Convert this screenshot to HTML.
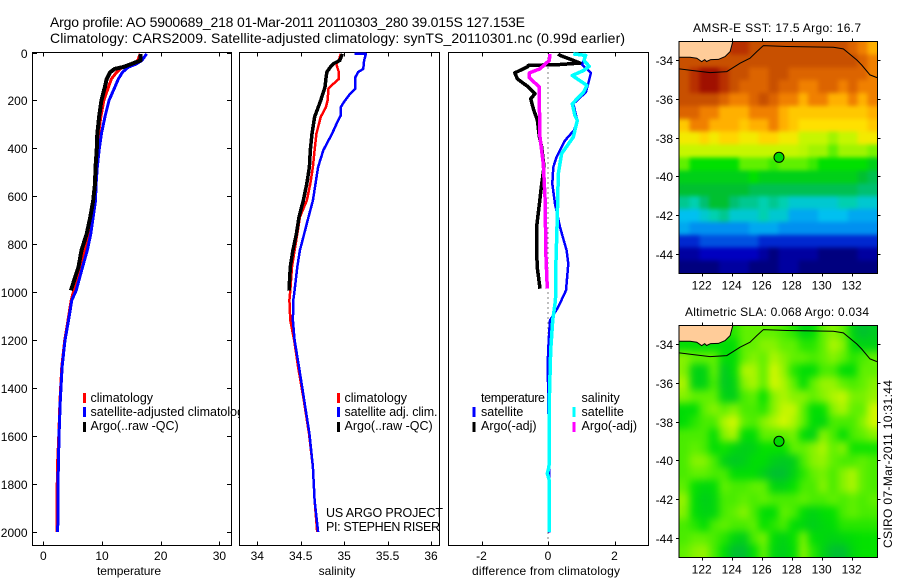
<!DOCTYPE html>
<html lang="en">
<head>
<meta charset="utf-8">
<title>Argo profile 5900689_218</title>
<style>
html,body{margin:0;padding:0;background:#fff;}
svg{display:block;font-family:"Liberation Sans",sans-serif;fill:#000;}
text{font-size:12px;}
.t{font-size:14px;}
.l{font-size:12.5px;}
</style>
</head>
<body>
<svg id="root" xmlns="http://www.w3.org/2000/svg" width="900" height="580" viewBox="0 0 900 580">
<defs>
<clipPath id="legend-clip"><rect x="32" y="380" width="207.5" height="60"/></clipPath>
<clipPath id="sst-clip"><rect x="679" y="41.5" width="198.5" height="232"/></clipPath>
<clipPath id="sla-clip"><rect x="679" y="325.5" width="198.5" height="232"/></clipPath>
<filter id="sst-smooth" x="-5%" y="-5%" width="110%" height="110%" color-interpolation-filters="sRGB">
  <feGaussianBlur stdDeviation="2.2"/>
  <feComponentTransfer><feFuncA type="linear" slope="100"/></feComponentTransfer>
</filter>
<filter id="sla-smooth" x="-5%" y="-5%" width="110%" height="110%" color-interpolation-filters="sRGB">
  <feGaussianBlur stdDeviation="4"/>
  <feComponentTransfer><feFuncA type="linear" slope="100"/></feComponentTransfer>
</filter>
</defs>
<text class="t" x="50" y="27" textLength="475">Argo profile: AO 5900689_218 01-Mar-2011 20110303_280 39.015S 127.153E</text>
<text class="t" x="50" y="43" textLength="575">Climatology: CARS2009. Satellite-adjusted climatology: synTS_20110301.nc (0.99d earlier)</text>

<text x="97" y="575" textLength="64">temperature</text>
<text x="337" y="575" text-anchor="middle">salinity</text>
<text x="472" y="575" textLength="148">difference from climatology</text>

<text x="693" y="32" textLength="168">AMSR-E SST: 17.5 Argo: 16.7</text>
<text x="685" y="316" textLength="184">Altimetric SLA: 0.068 Argo: 0.034</text>
<text transform="translate(892,548) rotate(-90)" textLength="168">CSIRO 07-Mar-2011 10:31:44</text>
<g id="plots"></g>
<g id="labels">
  <g clip-path="url(#legend-clip)">
    <rect x="83" y="393" width="3" height="10" fill="#f00"/>
    <rect x="83" y="407" width="3" height="10" fill="#00f"/>
    <rect x="83" y="422" width="3" height="10" fill="#000"/>
    <text class="l" x="90.5" y="402">climatology</text>
    <text class="l" x="90.5" y="416">satellite-adjusted climatology</text>
    <text class="l" x="90.5" y="430">Argo(..raw -QC)</text>
  </g>
  <g>
    <rect x="337" y="393" width="3" height="10" fill="#f00"/>
    <rect x="337" y="407" width="3" height="10" fill="#00f"/>
    <rect x="337" y="422" width="3" height="10" fill="#000"/>
    <text class="l" x="344.5" y="402">climatology</text>
    <text class="l" x="344.5" y="416" textLength="93">satellite adj. clim.</text>
    <text class="l" x="344.5" y="430">Argo(..raw -QC)</text>
    <text class="l" x="326" y="517" textLength="117">US ARGO PROJECT</text>
    <text class="l" x="326" y="531" textLength="114">PI: STEPHEN RISER</text>
  </g>
  <g>
    <text class="l" x="481" y="402" textLength="64">temperature</text>
    <rect x="472.5" y="407" width="3" height="10" fill="#00f"/>
    <rect x="472.5" y="422" width="3" height="10" fill="#000"/>
    <text class="l" x="481" y="416">satellite</text>
    <text class="l" x="481" y="430">Argo(-adj)</text>
    <text class="l" x="581.5" y="402">salinity</text>
    <rect x="572.5" y="407" width="3" height="10" fill="#0ff"/>
    <rect x="572.5" y="422" width="3" height="10" fill="#f0f"/>
    <text class="l" x="581.5" y="416">satellite</text>
    <text class="l" x="581.5" y="430">Argo(-adj)</text>
  </g>
</g>
</svg>
<script>
/* ---------- profile data ---------- */
const depthTicks = [0,200,400,600,800,1000,1200,1400,1600,1800,2000];
const tempTicks = [0,10,20,30];
const salTicks = [34,34.5,35,35.5,36];
const salTickLabels = ['34','34.5','35','35.5','36'];
const diffTicks = [-2,0,2];
const diffZeroDepths = [0,2040];

const tempArgoDepths = [6,33,47,61,68,82,110,144,200,269,339,408,478,547,617,686,756,825,894,992];
const tempArgo = [16.6,16.6,15.1,13.6,12.2,11.4,10.8,10.5,9.9,9.5,9.2,9.1,8.9,8.8,8.5,8.0,7.4,6.5,6.0,4.7];
const tempClimDepths = [6,33,47,61,82,110,144,200,269,339,408,478,547,617,686,756,825,894,992,1033,1117,1200,1311,1450,1589,1728,1867,2000];
const tempClim = [16.5,16.1,15.3,13.4,12.5,11.6,11.1,10.3,9.8,9.4,9.2,9.1,8.9,8.7,8.2,7.8,7.1,6.3,5.2,4.75,4.2,3.65,3.15,2.85,2.65,2.4,2.35,2.3];
const tempSat = [17.6,16.8,15.9,14.5,13.5,12.8,12.2,11.2,10.5,9.9,9.5,9.2,9,8.9,8.5,8.1,7.5,6.7,5.6,4.85,4.3,3.7,3.2,2.9,2.7,2.56,2.5,2.45];

const salArgoDepths = [6,33,47,61,82,110,144,200,269,339,408,478,547,617,686,756,825,894,992];
const salArgo = [34.98,34.95,34.875,34.84,34.80,34.79,34.78,34.73,34.66,34.63,34.61,34.6,34.57,34.53,34.48,34.45,34.41,34.38,34.365];
const salClimDepths = [6,33,47,61,82,110,131,151,200,228,269,339,408,478,547,617,686,756,825,894,992,1033,1117,1200,1311,1450,1589,1728,1867,2000];
const salClim = [34.96,34.94,34.91,34.92,34.94,34.94,34.875,34.82,34.81,34.79,34.73,34.68,34.66,34.64,34.61,34.57,34.49,34.46,34.43,34.40,34.38,34.37,34.38,34.425,34.47,34.535,34.595,34.64,34.66,34.69];
const salSatDepths = [5,6,33,68,82,103,151,172,200,228,263,283,339,408,478,547,617,686,756,825,894,992,1033,1117,1200,1311,1450,1589,1728,1867,2000];
const salSat = [35.12,35.25,35.23,35.22,35.16,35.13,35.13,35.07,35.01,34.96,34.96,34.93,34.86,34.76,34.70,34.67,34.64,34.59,34.54,34.49,34.46,34.43,34.415,34.41,34.43,34.48,34.54,34.6,34.64,34.66,34.70];

const diffTempArgoDepths = [6,12,30,44,50,54,60,85,110,144,172,193,235,283,353,394,478,547,631,714,839,901,985];
const diffTempArgo = [0.31,0.36,0.71,0.96,0.36,-0.59,-0.62,-1.0,-0.92,-0.59,-0.39,-0.52,-0.44,-0.32,-0.26,-0.19,-0.12,-0.19,-0.26,-0.33,-0.34,-0.32,-0.24];
const diffSalArgoDepths = [6,33,68,85,106,144,228,353,464,603,853,985];
const diffSalArgo = [0.06,0.04,-0.24,-0.56,-0.56,-0.26,-0.26,-0.24,-0.14,-0.09,-0.06,-0.02];
const diffTempSatDepths = [6,33,50,85,124,165,214,283,325,367,436,478,547,631,728,825,881,992,1061,1117,1200,1297,1450,1728,1853,2002];
const diffTempSat = [1.12,1.07,1.02,1.29,1.22,1.14,0.76,0.88,0.78,0.51,0.26,0.16,0.13,0.21,0.36,0.56,0.61,0.54,0.31,0.06,0.02,-0.01,0.01,0.04,0.04,0.04];
const diffSalSatDepths = [6,12,33,58,75,96,137,165,214,263,283,353,422,506,686,922,1019,1047,1117,1242,1450,1728,1755,1780,2000];
const diffSalSat = [0.76,1.13,1.08,1.24,1.07,0.73,1.17,1.07,0.73,0.81,0.88,0.76,0.41,0.31,0.28,0.23,0.23,0.21,0.14,0.08,0.04,0.03,-0.02,0.03,0.04];

/* ---------- map data ---------- */
const mapLonTicks = [122,124,126,128,130,132];
const mapLatTicks = [-34,-36,-38,-40,-42,-44];
const argoLon = 127.153;
const argoLat = -39.015;
const coastLon = [120.51,121.22,121.67,122,122.2,122.33,122.6,123.11,123.56,123.89,124.07];
const coastLat = [-33.86,-33.86,-33.91,-34.09,-33.98,-34.08,-33.98,-33.97,-33.83,-33.57,-33.05];
const contourLon = [120.51,121.44,122.56,123.67,124.56,125.22,125.67,126.11,127.67,130.78,131.44,132.33,132.67,133.22,133.69];
const contourLat = [-34.46,-34.55,-34.65,-34.60,-34.17,-33.91,-33.57,-33.26,-33.31,-33.35,-33.43,-34,-34.26,-34.77,-34.91];

const sstGrid = [
[20,20,20,20,20,21,21,20.5,20.5,20.5,20.5,20.5,20.5,20.5,20.5,20.5,20.5,20,19.5,19],
[20.5,20.5,20.5,20.5,20.5,20.5,20.5,20.5,20.5,20.5,20.5,20.5,20.5,20.5,20.5,20.5,20.5,20.5,20,19.5],
[20.5,21,21.5,21.5,21,20.5,20.5,20,20,20.5,20.5,20,20,20,20,20,20,20,20,19.5],
[20.5,21,21.5,21.5,21,20.5,20,20,20,20.5,20,20,19.5,19.5,20,20,19.5,20,19.5,19.5],
[20.5,20.5,20.5,20.5,20,19.5,19.5,20,20.5,20,19.5,19.5,19,19.5,19.5,19,19,19.5,19,19.5],
[20,20,19.5,19.5,19,19,19,19.5,19.5,19.5,19,18.5,18.5,18.5,18.5,18.5,18.5,18.5,18.5,19],
[18.5,19.5,19.5,19,19,19,18.5,19,19,19.5,19,18.5,18,18,18,18,18,18,18,18.5],
[17.8,17.8,18.2,17.8,18.2,18.2,17.8,17.8,18.2,18.2,17.8,17.8,17.3,17.3,17.3,17,17.3,17.3,17.8,17.8],
[17.3,17.3,17.3,17.3,17.3,17.3,17.3,17.3,17.3,17.3,17.3,17.3,17.2,17,17,16.5,17,17,17,16.7],
[16.5,16,16,16,16,16,16.5,16.5,16.5,16.3,16.5,16.5,16.5,16.3,16,16,16,16,16,15.5],
[15.5,15.5,15.5,15.5,15.5,15.5,15.5,16,15.5,15.5,15.5,15.5,15.5,15.5,15.5,15.5,15.5,15.5,15,14.5],
[15,15,15,15,15,15,15,14.5,14.5,14.5,14.5,14.5,14.5,14.5,14.5,14.5,14.5,14.5,14,14],
[13.5,13,14,15,15,14,13.5,13.5,13,13.5,13,12.5,12.5,12.5,12.5,12.5,13,13,12.5,12.5],
[12,12,12.5,13,13.5,12.5,12.5,12.5,13,12.5,12.5,11.5,11.5,11.5,12,12,12,11.5,11.5,11.5],
[11.5,11,11,11,11,11,11,11.5,11.5,11.5,11,11,11,11,11,11,11,11,11,11],
[9.5,9.5,10,10,10,10,10,10,9.5,9.5,9.5,9.5,9.5,9.5,9.5,9.5,9.5,9.5,9.5,9.5],
[8.5,8.5,9,9,9,9,9,9,8.5,8,8.5,8.5,8.5,8.5,8,8,8,8,8.5,8.5],
[8,8,8,8,8.5,8.5,8.5,8,8,8,8.5,8.5,8,8,8,8,8,8,8,8]
];
const slaGrid = [
[0,0,0,0,0,0,.05,.05,.05,.05,.03,0,-.1,-.05,.05,.1,.05,-.1,-.2,-.15],
[-.05,-.05,-.05,-.05,-.05,-.05,.05,.05,.1,.1,.05,.05,0,0,.05,.15,.1,-.05,-.1,-.1],
[.1,.05,.05,.05,-.05,-.05,.05,.1,.05,.15,.1,.05,.05,.03,.05,.1,.05,0,.03,.05],
[.1,-.1,-.1,.05,-.15,-.05,.15,.15,.05,.2,.12,0,-.05,-.05,.03,.03,-.05,-.05,.05,.05],
[.15,-.1,-.1,.03,-.15,-.1,.1,.15,.05,.2,.15,.05,-.05,.05,.12,.12,.05,.03,.05,.1],
[.1,.05,.05,.05,-.1,-.12,.03,.05,-.03,.1,.15,.1,.1,.05,.1,.15,.18,.08,.08,.12],
[-.05,-.05,.05,.1,.05,.1,.03,.03,0,.1,.18,.18,.05,-.05,-.03,.1,.15,.05,.05,.2],
[-.05,0,.03,.03,.15,.2,.05,.03,.1,.15,.2,.15,.05,-.05,-.08,.03,.03,.03,.1,.2],
[.03,.03,.03,-.05,.1,.15,-.05,-.05,.05,.05,.05,.08,-.05,-.1,.1,.03,-.05,.03,.05,.1],
[.03,.05,.03,-.05,-.02,-.08,-.12,-.1,-.03,-.03,-.03,.05,.05,.1,.15,.05,.1,-.02,-.02,-.02],
[.03,.1,.1,.03,-.1,-.15,-.12,-.05,-.05,-.12,-.15,-.12,.03,.1,.12,.05,.03,.03,.05,.03],
[.03,.05,.05,.03,.03,-.05,-.05,-.05,-.12,-.2,-.2,-.1,0,.05,.08,.03,.1,.15,.05,.03],
[.05,-.03,-.08,-.05,.05,.03,.03,.05,.05,-.08,-.1,-.03,.03,.03,.1,.03,.1,.15,.05,.03],
[.12,-.05,-.12,-.08,.03,.03,.05,.03,.05,.03,.03,.03,.05,.03,.03,.05,.03,.05,.03,.05],
[.1,-.05,-.1,-.08,.03,.05,.1,.03,-.05,-.05,.05,.03,-.05,-.1,-.05,-.03,.03,.05,.03,.03],
[.03,0,-.05,.03,.05,.03,.03,.05,-.03,0,.03,-.05,-.08,-.12,-.08,-.05,0,0,0,0],
[.03,.05,.05,.03,0,-.08,-.12,.03,.08,-.05,-.1,-.03,.08,-.05,-.08,-.1,-.08,-.05,-.03,-.03],
[.05,.1,.12,.03,-.05,-.2,-.2,-.05,.05,-.08,-.12,-.05,.1,0,-.1,-.2,-.2,-.08,-.03,-.03]
];
const cmapValues = [8,9,10,11,12,13,14,15,16,16.5,17.5,18,19,19.5,20,20.5,21,21.5,22];
const cmapColors = ['#00007f','#0000c0','#0050e0','#0090f0','#00c0f0','#00d0b0','#00c070','#00c030','#00e000','#60f000','#e0f800','#ffe000','#ffb000','#f08000','#dc6400','#c85000','#b83000','#a01000','#900000'];

/* ---------- helpers ---------- */
const NS = 'http://www.w3.org/2000/svg';
const plots = document.getElementById('plots');
function mk(parent, tag, attrs, txt) {
  const el = document.createElementNS(NS, tag);
  for (const k in attrs) el.setAttribute(k, attrs[k]);
  if (txt !== undefined) el.textContent = txt;
  parent.appendChild(el);
  return el;
}
const depthY = d => 52.5 + d * 0.2398;
const tempX = v => 43.3 + v * 5.87;
const salX = v => 257.3 + (v - 34) * 86.85;
const diffX = v => 548 + v * 33.25;
const PT = 52.5, PB = 545.5;

function panel(name, x0, x1, ticks, labels, xf) {
  const g = mk(plots, 'g', {});
  
  
  const box = mk(g, 'rect', {x:x0, y:PT, width:x1-x0, height:PB-PT, fill:'none', stroke:'#000', 'stroke-width':1, 'shape-rendering':'crispEdges'});
  
  
  ticks.forEach((t, i) => {
    const x = Math.round(xf(t)) + 0.5;
    const tk = mk(g, 'path', {d:`M${x} ${PT}V${PT+4}M${x} ${PB}V${PB-4}`, stroke:'#000', fill:'none', 'shape-rendering':'crispEdges'});
    
    
    const lb = mk(g, 'text', {x:xf(t), y:560, 'text-anchor':'middle'}, labels[i]);
    
    
  });
  return g;
}
function series(g, name, xf, depths, vals, color, w) {
  const pts = depths.map((d, i) => xf(vals[i]).toFixed(1) + ',' + depthY(d).toFixed(1)).join(' ');
  const pl = mk(g, 'polyline', {points:pts, fill:'none', stroke:color, 'stroke-width':w, 'stroke-linejoin':'round', 'shape-rendering':'crispEdges'});
  
  
}

/* ---------- profile panels ---------- */
const g1 = panel('temperature', 32.5, 231.5, tempTicks, tempTicks.map(String), tempX);
depthTicks.forEach(d => {
  const y = Math.round(depthY(d)) + 0.5;
  const tk = mk(g1, 'path', {d:`M32.5 ${y}H37M231.5 ${y}H227`, stroke:'#000', fill:'none', 'shape-rendering':'crispEdges'});
  
  
  const lb = mk(g1, 'text', {x:27.5, y:y+4.5, 'text-anchor':'end'}, String(d));
  
  
});
series(g1, 'temperature-climatology-line', tempX, tempClimDepths, tempClim, '#f00', 3);
series(g1, 'temperature-satellite-line', tempX, tempClimDepths, tempSat, '#00f', 3);
series(g1, 'temperature-argo-line', tempX, tempArgoDepths, tempArgo, '#000', 4);

const g2 = panel('salinity', 239.5, 439.5, salTicks, salTickLabels, salX);
series(g2, 'salinity-climatology-line', salX, salClimDepths, salClim, '#f00', 2.5);
series(g2, 'salinity-satellite-line', salX, salSatDepths, salSat, '#00f', 2.5);
series(g2, 'salinity-argo-line', salX, salArgoDepths, salArgo, '#000', 3.5);

const g3 = panel('difference', 448.5, 648.5, diffTicks, diffTicks.map(String), diffX);
const zero = mk(g3, 'line', {x1:diffX(0), x2:diffX(0), y1:depthY(diffZeroDepths[0]), y2:depthY(diffZeroDepths[1]), stroke:'#000', 'stroke-dasharray':'1 4', 'shape-rendering':'crispEdges'});


series(g3, 'temperature-diff-satellite-line', diffX, diffTempSatDepths, diffTempSat, '#00f', 2.5);
series(g3, 'temperature-diff-argo-line', diffX, diffTempArgoDepths, diffTempArgo, '#000', 3.5);
series(g3, 'salinity-diff-satellite-line', diffX, diffSalSatDepths, diffSalSat, '#0ff', 3.5);
series(g3, 'salinity-diff-argo-line', diffX, diffSalArgoDepths, diffSalArgo, '#f0f', 3.5);

/* ---------- maps ---------- */
function cmap(v) {
  let i = 0;
  while (i < cmapValues.length - 2 && v > cmapValues[i + 1]) i++;
  const f = Math.max(0, Math.min(1, (v - cmapValues[i]) / (cmapValues[i + 1] - cmapValues[i])));
  const p = c => [1, 3, 5].map(o => parseInt(c.substr(o, 2), 16));
  const a = p(cmapColors[i]), b = p(cmapColors[i + 1]);
  return `rgb(${a.map((x, k) => Math.round(x + (b[k] - x) * f)).join(',')})`;
}
function drawMap(name, top, bottom, grid, toCmap, fillDot) {
  const L = 679.5, R = 877.5;
  const lonX = lon => 701.7 + (lon - 122) * 15;
  const latY = lat => top + (-33.05 - lat) * (bottom - top) / 11.95;
  const g = mk(plots, 'g', {});
  
  
  const clipG = mk(g, 'g', {'clip-path':`url(#${name}-clip)`});
  
  
  const cells = mk(clipG, 'g', {filter:`url(#${name}-smooth)`});
  
  
  const rows = grid.length, cols = grid[0].length;
  const cw = (R - L) / cols, ch = (bottom - top) / rows;
  grid.forEach((row, r) => row.forEach((v, c) => {
    const cell = mk(cells, 'rect', {x:L + c * cw, y:top + r * ch, width:cw + 0.5, height:ch + 0.5, fill:cmap(toCmap(v)), 'shape-rendering':'crispEdges'});
    
    
  }));
  const landPts = coastLon.map((lon, i) => lonX(lon).toFixed(1) + ',' + latY(coastLat[i]).toFixed(1));
  landPts.push(L + ',' + top);
  const land = mk(g, 'polygon', {points:landPts.join(' '), fill:'#ffcc99'});
  
  
  const coast = mk(g, 'polyline', {points:coastLon.map((lon, i) => lonX(lon).toFixed(1) + ',' + latY(coastLat[i]).toFixed(1)).join(' '), fill:'none', stroke:'#000', 'stroke-width':1});
  
  
  const cont = mk(g, 'polyline', {points:contourLon.map((lon, i) => lonX(lon).toFixed(1) + ',' + latY(contourLat[i]).toFixed(1)).join(' '), fill:'none', stroke:'#000', 'stroke-width':1});
  
  
  const dot = mk(g, 'circle', {cx:lonX(argoLon), cy:latY(argoLat), r:5, fill:fillDot, stroke:'#000', 'stroke-width':1});
  
  
  const frame = mk(g, 'rect', {x:L - 0.5, y:top, width:R - L + 0.5, height:bottom - top, fill:'none', stroke:'#000', 'shape-rendering':'crispEdges'});
  
  
  mapLonTicks.forEach(lon => {
    const x = Math.round(lonX(lon)) + 0.5;
    const tk = mk(g, 'path', {d:`M${x} ${top}v-3M${x} ${bottom}v3`, stroke:'#000', 'shape-rendering':'crispEdges'});
    
    
    const lb = mk(g, 'text', {x:lonX(lon), y:bottom + 16, 'text-anchor':'middle'}, String(lon));
    
    
  });
  mapLatTicks.forEach(lat => {
    const y = Math.round(latY(lat)) + 0.5;
    const tk = mk(g, 'path', {d:`M${L - 0.5} ${y}h-3M${R} ${y}h3`, stroke:'#000', 'shape-rendering':'crispEdges'});
    
    
    const lb = mk(g, 'text', {x:673, y:y + 4.5, 'text-anchor':'end'}, String(lat));
    
    
  });
}
drawMap('sst', 41.5, 273.5, sstGrid, v => v, '#00d800');
drawMap('sla', 325.5, 557.5, slaGrid, v => 16.2 + v * 6, '#00d800');
</script>
</body>
</html>
